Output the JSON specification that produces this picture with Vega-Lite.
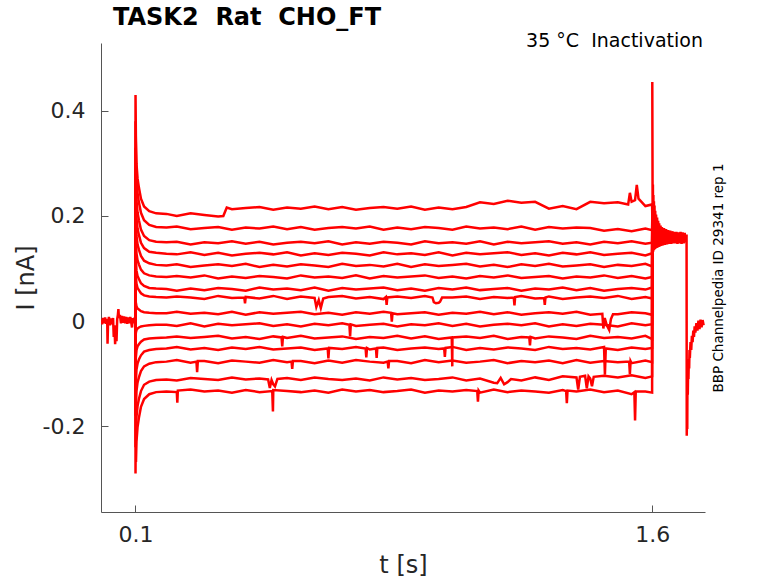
{
"$schema": "https://vega.github.io/schema/vega-lite/v6.json",
"width": 604,
"height": 469,
"autosize": {"type": "none"},
"padding": {"left": 101, "top": 43, "right": 73, "bottom": 71},
"background": "white",
"title": {"text": "TASK2\u00a0 Rat\u00a0 CHO_FT", "anchor": "start", "frame": "group", "dx": 12, "dy": 26, "offset": 4, "baseline": "bottom", "fontSize": 24, "font": "DejaVu Sans", "fontWeight": "bold", "color": "#000000"},
"config": {
  "view": {"stroke": null},
  "axis": {"grid": false, "labelFont": "DejaVu Sans", "labelFontSize": 22, "labelColor": "#262626", "titleFont": "DejaVu Sans", "titleFontSize": 24, "titleFontWeight": "normal", "titleColor": "#262626", "domainColor": "#555555", "domainWidth": 1, "tickColor": "#555555", "tickSize": -7, "tickWidth": 1},
  "axisX": {"labelPadding": 19, "titlePadding": 8},
  "axisY": {"labelPadding": 23, "titlePadding": 4}
},
"layer": [
{
"data": {"values": [
{"s":0,"t":0,"i":0.003},{"s":0,"t":0.003,"i":-0.006},{"s":0,"t":0.006,"i":0.006},{"s":0,"t":0.009,"i":-0.004},{"s":0,"t":0.012,"i":0.007},{"s":0,"t":0.015,"i":-0.005},{"s":0,"t":0.018,"i":0.004},{"s":0,"t":0.019,"i":-0.043},{"s":0,"t":0.0205,"i":-0.002},{"s":0,"t":0.023,"i":0.008},{"s":0,"t":0.026,"i":-0.008},{"s":0,"t":0.029,"i":0.005},{"s":0,"t":0.032,"i":-0.006},{"s":0,"t":0.035,"i":0.006},{"s":0,"t":0.037,"i":-0.03},{"s":0,"t":0.039,"i":-0.008},{"s":0,"t":0.041,"i":-0.044},{"s":0,"t":0.043,"i":-0.01},{"s":0,"t":0.045,"i":-0.038},{"s":0,"t":0.047,"i":0.004},{"s":0,"t":0.049,"i":0.012},{"s":0,"t":0.0505,"i":0.023},{"s":0,"t":0.052,"i":0.006},{"s":0,"t":0.055,"i":0.012},{"s":0,"t":0.058,"i":-0.004},{"s":0,"t":0.061,"i":0.01},{"s":0,"t":0.064,"i":-0.003},{"s":0,"t":0.067,"i":0.009},{"s":0,"t":0.07,"i":-0.004},{"s":0,"t":0.073,"i":0.008},{"s":0,"t":0.076,"i":-0.005},{"s":0,"t":0.079,"i":0.007},{"s":0,"t":0.082,"i":-0.004},{"s":0,"t":0.085,"i":0.008},{"s":0,"t":0.088,"i":-0.003},{"s":0,"t":0.09,"i":-0.012},{"s":0,"t":0.092,"i":0.006},{"s":0,"t":0.095,"i":-0.004},{"s":0,"t":0.098,"i":0.007},{"s":0,"t":0.1,"i":0},

{"s":1,"t":0.1,"i":0},{"s":1,"t":0.1002,"i":0.43},{"s":1,"t":0.1012,"i":0.353},{"s":1,"t":0.103,"i":0.299},{"s":1,"t":0.106,"i":0.272},{"s":1,"t":0.11,"i":0.254},{"s":1,"t":0.116,"i":0.233},{"s":1,"t":0.125,"i":0.218},{"s":1,"t":0.14,"i":0.209},{"s":1,"t":0.16,"i":0.205},{"s":1,"t":0.19,"i":0.204},{"s":1,"t":0.22,"i":0.2},{"s":1,"t":0.26,"i":0.205},{"s":1,"t":0.3,"i":0.202},{"s":1,"t":0.34,"i":0.199},{"s":1,"t":0.355,"i":0.2},{"s":1,"t":0.365,"i":0.216},{"s":1,"t":0.38,"i":0.213},{"s":1,"t":0.42,"i":0.215},{"s":1,"t":0.46,"i":0.217},{"s":1,"t":0.5,"i":0.212},{"s":1,"t":0.54,"i":0.216},{"s":1,"t":0.58,"i":0.214},{"s":1,"t":0.62,"i":0.218},{"s":1,"t":0.66,"i":0.213},{"s":1,"t":0.7,"i":0.217},{"s":1,"t":0.74,"i":0.212},{"s":1,"t":0.78,"i":0.215},{"s":1,"t":0.82,"i":0.217},{"s":1,"t":0.86,"i":0.214},{"s":1,"t":0.9,"i":0.218},{"s":1,"t":0.94,"i":0.212},{"s":1,"t":0.98,"i":0.216},{"s":1,"t":1.02,"i":0.213},{"s":1,"t":1.06,"i":0.217},{"s":1,"t":1.1,"i":0.226},{"s":1,"t":1.14,"i":0.223},{"s":1,"t":1.18,"i":0.229},{"s":1,"t":1.22,"i":0.225},{"s":1,"t":1.26,"i":0.227},{"s":1,"t":1.3,"i":0.214},{"s":1,"t":1.34,"i":0.219},{"s":1,"t":1.38,"i":0.213},{"s":1,"t":1.42,"i":0.227},{"s":1,"t":1.46,"i":0.224},{"s":1,"t":1.5,"i":0.226},{"s":1,"t":1.53,"i":0.222},{"s":1,"t":1.535,"i":0.244},{"s":1,"t":1.54,"i":0.227},{"s":1,"t":1.55,"i":0.23},{"s":1,"t":1.555,"i":0.259},{"s":1,"t":1.56,"i":0.233},{"s":1,"t":1.58,"i":0.219},{"s":1,"t":1.5995,"i":0.222},{"s":1,"t":1.6,"i":0.2},

{"s":2,"t":0.1,"i":0},{"s":2,"t":0.1002,"i":0.38},{"s":2,"t":0.1012,"i":0.322},{"s":2,"t":0.103,"i":0.27},{"s":2,"t":0.106,"i":0.244},{"s":2,"t":0.11,"i":0.226},{"s":2,"t":0.116,"i":0.206},{"s":2,"t":0.125,"i":0.192},{"s":2,"t":0.14,"i":0.183},{"s":2,"t":0.16,"i":0.179},{"s":2,"t":0.19,"i":0.178},{"s":2,"t":0.22,"i":0.18},{"s":2,"t":0.26,"i":0.175},{"s":2,"t":0.3,"i":0.177},{"s":2,"t":0.34,"i":0.179},{"s":2,"t":0.38,"i":0.174},{"s":2,"t":0.42,"i":0.178},{"s":2,"t":0.46,"i":0.176},{"s":2,"t":0.5,"i":0.18},{"s":2,"t":0.54,"i":0.175},{"s":2,"t":0.58,"i":0.179},{"s":2,"t":0.62,"i":0.174},{"s":2,"t":0.66,"i":0.177},{"s":2,"t":0.7,"i":0.179},{"s":2,"t":0.74,"i":0.176},{"s":2,"t":0.78,"i":0.18},{"s":2,"t":0.82,"i":0.174},{"s":2,"t":0.86,"i":0.178},{"s":2,"t":0.9,"i":0.175},{"s":2,"t":0.94,"i":0.179},{"s":2,"t":0.98,"i":0.177},{"s":2,"t":1.02,"i":0.174},{"s":2,"t":1.06,"i":0.18},{"s":2,"t":1.1,"i":0.176},{"s":2,"t":1.14,"i":0.178},{"s":2,"t":1.18,"i":0.175},{"s":2,"t":1.22,"i":0.18},{"s":2,"t":1.26,"i":0.174},{"s":2,"t":1.3,"i":0.179},{"s":2,"t":1.34,"i":0.176},{"s":2,"t":1.38,"i":0.178},{"s":2,"t":1.42,"i":0.177},{"s":2,"t":1.46,"i":0.172},{"s":2,"t":1.5,"i":0.175},{"s":2,"t":1.54,"i":0.171},{"s":2,"t":1.58,"i":0.176},{"s":2,"t":1.5995,"i":0.173},{"s":2,"t":1.6,"i":0.2},

{"s":3,"t":0.1,"i":0},{"s":3,"t":0.1002,"i":0.33},{"s":3,"t":0.1012,"i":0.274},{"s":3,"t":0.103,"i":0.229},{"s":3,"t":0.106,"i":0.207},{"s":3,"t":0.11,"i":0.192},{"s":3,"t":0.116,"i":0.174},{"s":3,"t":0.125,"i":0.162},{"s":3,"t":0.14,"i":0.154},{"s":3,"t":0.16,"i":0.151},{"s":3,"t":0.19,"i":0.15},{"s":3,"t":0.22,"i":0.151},{"s":3,"t":0.26,"i":0.146},{"s":3,"t":0.3,"i":0.15},{"s":3,"t":0.34,"i":0.148},{"s":3,"t":0.38,"i":0.152},{"s":3,"t":0.42,"i":0.147},{"s":3,"t":0.46,"i":0.151},{"s":3,"t":0.5,"i":0.146},{"s":3,"t":0.54,"i":0.149},{"s":3,"t":0.58,"i":0.151},{"s":3,"t":0.62,"i":0.148},{"s":3,"t":0.66,"i":0.152},{"s":3,"t":0.7,"i":0.146},{"s":3,"t":0.74,"i":0.15},{"s":3,"t":0.78,"i":0.147},{"s":3,"t":0.82,"i":0.151},{"s":3,"t":0.86,"i":0.149},{"s":3,"t":0.9,"i":0.146},{"s":3,"t":0.94,"i":0.152},{"s":3,"t":0.98,"i":0.148},{"s":3,"t":1.02,"i":0.15},{"s":3,"t":1.06,"i":0.147},{"s":3,"t":1.1,"i":0.152},{"s":3,"t":1.14,"i":0.146},{"s":3,"t":1.18,"i":0.151},{"s":3,"t":1.22,"i":0.148},{"s":3,"t":1.26,"i":0.15},{"s":3,"t":1.3,"i":0.152},{"s":3,"t":1.34,"i":0.147},{"s":3,"t":1.38,"i":0.15},{"s":3,"t":1.42,"i":0.146},{"s":3,"t":1.46,"i":0.151},{"s":3,"t":1.5,"i":0.148},{"s":3,"t":1.54,"i":0.152},{"s":3,"t":1.58,"i":0.147},{"s":3,"t":1.5995,"i":0.149},{"s":3,"t":1.6,"i":0.2},

{"s":4,"t":0.1,"i":0},{"s":4,"t":0.1002,"i":0.28},{"s":4,"t":0.1012,"i":0.233},{"s":4,"t":0.103,"i":0.195},{"s":4,"t":0.106,"i":0.176},{"s":4,"t":0.11,"i":0.164},{"s":4,"t":0.116,"i":0.149},{"s":4,"t":0.125,"i":0.139},{"s":4,"t":0.14,"i":0.132},{"s":4,"t":0.16,"i":0.13},{"s":4,"t":0.19,"i":0.128},{"s":4,"t":0.22,"i":0.127},{"s":4,"t":0.26,"i":0.131},{"s":4,"t":0.3,"i":0.126},{"s":4,"t":0.34,"i":0.13},{"s":4,"t":0.38,"i":0.125},{"s":4,"t":0.42,"i":0.128},{"s":4,"t":0.46,"i":0.13},{"s":4,"t":0.5,"i":0.127},{"s":4,"t":0.54,"i":0.131},{"s":4,"t":0.58,"i":0.125},{"s":4,"t":0.62,"i":0.129},{"s":4,"t":0.66,"i":0.126},{"s":4,"t":0.7,"i":0.13},{"s":4,"t":0.74,"i":0.128},{"s":4,"t":0.78,"i":0.125},{"s":4,"t":0.82,"i":0.131},{"s":4,"t":0.86,"i":0.127},{"s":4,"t":0.9,"i":0.129},{"s":4,"t":0.94,"i":0.126},{"s":4,"t":0.98,"i":0.131},{"s":4,"t":1.02,"i":0.125},{"s":4,"t":1.06,"i":0.13},{"s":4,"t":1.1,"i":0.127},{"s":4,"t":1.14,"i":0.129},{"s":4,"t":1.18,"i":0.131},{"s":4,"t":1.22,"i":0.126},{"s":4,"t":1.26,"i":0.129},{"s":4,"t":1.3,"i":0.125},{"s":4,"t":1.34,"i":0.13},{"s":4,"t":1.38,"i":0.127},{"s":4,"t":1.42,"i":0.131},{"s":4,"t":1.46,"i":0.126},{"s":4,"t":1.5,"i":0.128},{"s":4,"t":1.54,"i":0.13},{"s":4,"t":1.58,"i":0.125},{"s":4,"t":1.5995,"i":0.129},{"s":4,"t":1.6,"i":0.2},

{"s":5,"t":0.1,"i":0},{"s":5,"t":0.1002,"i":0.23},{"s":5,"t":0.1012,"i":0.194},{"s":5,"t":0.103,"i":0.162},{"s":5,"t":0.106,"i":0.146},{"s":5,"t":0.11,"i":0.136},{"s":5,"t":0.116,"i":0.124},{"s":5,"t":0.125,"i":0.115},{"s":5,"t":0.14,"i":0.11},{"s":5,"t":0.16,"i":0.107},{"s":5,"t":0.19,"i":0.106},{"s":5,"t":0.22,"i":0.108},{"s":5,"t":0.26,"i":0.103},{"s":5,"t":0.3,"i":0.106},{"s":5,"t":0.34,"i":0.108},{"s":5,"t":0.38,"i":0.105},{"s":5,"t":0.42,"i":0.109},{"s":5,"t":0.46,"i":0.103},{"s":5,"t":0.5,"i":0.107},{"s":5,"t":0.54,"i":0.104},{"s":5,"t":0.58,"i":0.108},{"s":5,"t":0.62,"i":0.106},{"s":5,"t":0.66,"i":0.103},{"s":5,"t":0.7,"i":0.109},{"s":5,"t":0.74,"i":0.105},{"s":5,"t":0.78,"i":0.107},{"s":5,"t":0.82,"i":0.104},{"s":5,"t":0.86,"i":0.109},{"s":5,"t":0.9,"i":0.103},{"s":5,"t":0.94,"i":0.108},{"s":5,"t":0.98,"i":0.105},{"s":5,"t":1.02,"i":0.107},{"s":5,"t":1.06,"i":0.109},{"s":5,"t":1.1,"i":0.104},{"s":5,"t":1.14,"i":0.107},{"s":5,"t":1.18,"i":0.103},{"s":5,"t":1.22,"i":0.108},{"s":5,"t":1.26,"i":0.105},{"s":5,"t":1.3,"i":0.109},{"s":5,"t":1.34,"i":0.104},{"s":5,"t":1.38,"i":0.106},{"s":5,"t":1.42,"i":0.108},{"s":5,"t":1.46,"i":0.103},{"s":5,"t":1.5,"i":0.107},{"s":5,"t":1.54,"i":0.105},{"s":5,"t":1.58,"i":0.109},{"s":5,"t":1.5995,"i":0.104},{"s":5,"t":1.6,"i":0.2},

{"s":6,"t":0.1,"i":0},{"s":6,"t":0.1002,"i":0.18},{"s":6,"t":0.1012,"i":0.154},{"s":6,"t":0.103,"i":0.129},{"s":6,"t":0.106,"i":0.116},{"s":6,"t":0.11,"i":0.108},{"s":6,"t":0.116,"i":0.098},{"s":6,"t":0.125,"i":0.091},{"s":6,"t":0.14,"i":0.087},{"s":6,"t":0.16,"i":0.085},{"s":6,"t":0.19,"i":0.084},{"s":6,"t":0.22,"i":0.086},{"s":6,"t":0.26,"i":0.083},{"s":6,"t":0.3,"i":0.087},{"s":6,"t":0.34,"i":0.081},{"s":6,"t":0.38,"i":0.085},{"s":6,"t":0.42,"i":0.082},{"s":6,"t":0.46,"i":0.086},{"s":6,"t":0.5,"i":0.084},{"s":6,"t":0.54,"i":0.081},{"s":6,"t":0.58,"i":0.087},{"s":6,"t":0.62,"i":0.083},{"s":6,"t":0.66,"i":0.085},{"s":6,"t":0.7,"i":0.082},{"s":6,"t":0.74,"i":0.087},{"s":6,"t":0.78,"i":0.081},{"s":6,"t":0.82,"i":0.086},{"s":6,"t":0.86,"i":0.083},{"s":6,"t":0.9,"i":0.085},{"s":6,"t":0.94,"i":0.087},{"s":6,"t":0.98,"i":0.082},{"s":6,"t":1.02,"i":0.085},{"s":6,"t":1.06,"i":0.081},{"s":6,"t":1.1,"i":0.086},{"s":6,"t":1.14,"i":0.083},{"s":6,"t":1.18,"i":0.087},{"s":6,"t":1.22,"i":0.082},{"s":6,"t":1.26,"i":0.084},{"s":6,"t":1.3,"i":0.086},{"s":6,"t":1.34,"i":0.081},{"s":6,"t":1.38,"i":0.085},{"s":6,"t":1.42,"i":0.083},{"s":6,"t":1.46,"i":0.087},{"s":6,"t":1.5,"i":0.082},{"s":6,"t":1.54,"i":0.086},{"s":6,"t":1.58,"i":0.081},{"s":6,"t":1.5995,"i":0.084},{"s":6,"t":1.6,"i":0.2},

{"s":7,"t":0.1,"i":0},{"s":7,"t":0.1002,"i":0.13},{"s":7,"t":0.1012,"i":0.116},{"s":7,"t":0.103,"i":0.096},{"s":7,"t":0.106,"i":0.086},{"s":7,"t":0.11,"i":0.08},{"s":7,"t":0.116,"i":0.072},{"s":7,"t":0.125,"i":0.067},{"s":7,"t":0.14,"i":0.063},{"s":7,"t":0.16,"i":0.062},{"s":7,"t":0.19,"i":0.061},{"s":7,"t":0.22,"i":0.058},{"s":7,"t":0.26,"i":0.062},{"s":7,"t":0.3,"i":0.059},{"s":7,"t":0.34,"i":0.063},{"s":7,"t":0.38,"i":0.061},{"s":7,"t":0.42,"i":0.058},{"s":7,"t":0.46,"i":0.064},{"s":7,"t":0.5,"i":0.06},{"s":7,"t":0.54,"i":0.062},{"s":7,"t":0.58,"i":0.059},{"s":7,"t":0.62,"i":0.064},{"s":7,"t":0.66,"i":0.058},{"s":7,"t":0.7,"i":0.063},{"s":7,"t":0.74,"i":0.06},{"s":7,"t":0.78,"i":0.062},{"s":7,"t":0.82,"i":0.064},{"s":7,"t":0.86,"i":0.059},{"s":7,"t":0.9,"i":0.062},{"s":7,"t":0.94,"i":0.058},{"s":7,"t":0.98,"i":0.063},{"s":7,"t":1.02,"i":0.06},{"s":7,"t":1.06,"i":0.064},{"s":7,"t":1.1,"i":0.059},{"s":7,"t":1.14,"i":0.061},{"s":7,"t":1.18,"i":0.063},{"s":7,"t":1.22,"i":0.058},{"s":7,"t":1.26,"i":0.062},{"s":7,"t":1.3,"i":0.06},{"s":7,"t":1.34,"i":0.064},{"s":7,"t":1.38,"i":0.059},{"s":7,"t":1.42,"i":0.063},{"s":7,"t":1.46,"i":0.058},{"s":7,"t":1.5,"i":0.061},{"s":7,"t":1.54,"i":0.063},{"s":7,"t":1.58,"i":0.06},{"s":7,"t":1.5995,"i":0.064},{"s":7,"t":1.6,"i":0.2},

{"s":8,"t":0.1,"i":0},{"s":8,"t":0.1002,"i":0.09},{"s":8,"t":0.1012,"i":0.085},{"s":8,"t":0.103,"i":0.071},{"s":8,"t":0.106,"i":0.063},{"s":8,"t":0.11,"i":0.059},{"s":8,"t":0.116,"i":0.053},{"s":8,"t":0.125,"i":0.049},{"s":8,"t":0.14,"i":0.047},{"s":8,"t":0.16,"i":0.046},{"s":8,"t":0.19,"i":0.045},{"s":8,"t":0.22,"i":0.047},{"s":8,"t":0.26,"i":0.045},{"s":8,"t":0.3,"i":0.042},{"s":8,"t":0.34,"i":0.048},{"s":8,"t":0.38,"i":0.044},{"s":8,"t":0.416,"i":0.045},{"s":8,"t":0.418,"i":0.034},{"s":8,"t":0.42,"i":0.046},{"s":8,"t":0.46,"i":0.043},{"s":8,"t":0.5,"i":0.048},{"s":8,"t":0.54,"i":0.042},{"s":8,"t":0.58,"i":0.047},{"s":8,"t":0.62,"i":0.044},{"s":8,"t":0.625,"i":0.027},{"s":8,"t":0.632,"i":0.04},{"s":8,"t":0.638,"i":0.025},{"s":8,"t":0.645,"i":0.043},{"s":8,"t":0.66,"i":0.046},{"s":8,"t":0.7,"i":0.048},{"s":8,"t":0.74,"i":0.043},{"s":8,"t":0.78,"i":0.046},{"s":8,"t":0.82,"i":0.042},{"s":8,"t":0.827,"i":0.046},{"s":8,"t":0.829,"i":0.031},{"s":8,"t":0.831,"i":0.045},{"s":8,"t":0.86,"i":0.047},{"s":8,"t":0.9,"i":0.044},{"s":8,"t":0.94,"i":0.048},{"s":8,"t":0.962,"i":0.045},{"s":8,"t":0.966,"i":0.036},{"s":8,"t":0.972,"i":0.034},{"s":8,"t":0.98,"i":0.035},{"s":8,"t":0.984,"i":0.037},{"s":8,"t":0.99,"i":0.045},{"s":8,"t":1.02,"i":0.045},{"s":8,"t":1.06,"i":0.047},{"s":8,"t":1.1,"i":0.042},{"s":8,"t":1.14,"i":0.046},{"s":8,"t":1.18,"i":0.044},{"s":8,"t":1.198,"i":0.045},{"s":8,"t":1.2,"i":0.03},{"s":8,"t":1.202,"i":0.046},{"s":8,"t":1.22,"i":0.048},{"s":8,"t":1.26,"i":0.043},{"s":8,"t":1.286,"i":0.044},{"s":8,"t":1.288,"i":0.031},{"s":8,"t":1.29,"i":0.045},{"s":8,"t":1.3,"i":0.047},{"s":8,"t":1.34,"i":0.042},{"s":8,"t":1.38,"i":0.045},{"s":8,"t":1.42,"i":0.047},{"s":8,"t":1.46,"i":0.044},{"s":8,"t":1.5,"i":0.048},{"s":8,"t":1.54,"i":0.042},{"s":8,"t":1.58,"i":0.046},{"s":8,"t":1.5995,"i":0.043},{"s":8,"t":1.6,"i":0.2},

{"s":9,"t":0.1,"i":0},{"s":9,"t":0.1002,"i":0.04},{"s":9,"t":0.1012,"i":0.035},{"s":9,"t":0.103,"i":0.028},{"s":9,"t":0.106,"i":0.024},{"s":9,"t":0.11,"i":0.022},{"s":9,"t":0.116,"i":0.019},{"s":9,"t":0.125,"i":0.017},{"s":9,"t":0.14,"i":0.016},{"s":9,"t":0.16,"i":0.015},{"s":9,"t":0.19,"i":0.015},{"s":9,"t":0.22,"i":0.018},{"s":9,"t":0.26,"i":0.014},{"s":9,"t":0.3,"i":0.016},{"s":9,"t":0.34,"i":0.013},{"s":9,"t":0.38,"i":0.018},{"s":9,"t":0.42,"i":0.012},{"s":9,"t":0.46,"i":0.017},{"s":9,"t":0.5,"i":0.014},{"s":9,"t":0.54,"i":0.016},{"s":9,"t":0.58,"i":0.018},{"s":9,"t":0.62,"i":0.013},{"s":9,"t":0.66,"i":0.016},{"s":9,"t":0.7,"i":0.012},{"s":9,"t":0.74,"i":0.017},{"s":9,"t":0.78,"i":0.014},{"s":9,"t":0.82,"i":0.018},{"s":9,"t":0.842,"i":0.016},{"s":9,"t":0.844,"i":-0.001},{"s":9,"t":0.846,"i":0.015},{"s":9,"t":0.86,"i":0.013},{"s":9,"t":0.9,"i":0.015},{"s":9,"t":0.94,"i":0.017},{"s":9,"t":0.98,"i":0.012},{"s":9,"t":1.02,"i":0.016},{"s":9,"t":1.06,"i":0.014},{"s":9,"t":1.1,"i":0.018},{"s":9,"t":1.14,"i":0.013},{"s":9,"t":1.18,"i":0.017},{"s":9,"t":1.22,"i":0.012},{"s":9,"t":1.26,"i":0.015},{"s":9,"t":1.3,"i":0.017},{"s":9,"t":1.34,"i":0.014},{"s":9,"t":1.38,"i":0.018},{"s":9,"t":1.42,"i":0.012},{"s":9,"t":1.455,"i":0.014},{"s":9,"t":1.458,"i":-0.014},{"s":9,"t":1.46,"i":-0.004},{"s":9,"t":1.462,"i":0.006},{"s":9,"t":1.468,"i":-0.008},{"s":9,"t":1.475,"i":-0.017},{"s":9,"t":1.48,"i":0.004},{"s":9,"t":1.486,"i":0.013},{"s":9,"t":1.5,"i":0.013},{"s":9,"t":1.54,"i":0.017},{"s":9,"t":1.58,"i":0.015},{"s":9,"t":1.5995,"i":0.012},{"s":9,"t":1.6,"i":0.2},

{"s":10,"t":0.1,"i":0},{"s":10,"t":0.1002,"i":-0.03},{"s":10,"t":0.1012,"i":-0.022},{"s":10,"t":0.103,"i":-0.017},{"s":10,"t":0.106,"i":-0.014},{"s":10,"t":0.11,"i":-0.012},{"s":10,"t":0.116,"i":-0.01},{"s":10,"t":0.125,"i":-0.009},{"s":10,"t":0.14,"i":-0.008},{"s":10,"t":0.16,"i":-0.007},{"s":10,"t":0.19,"i":-0.007},{"s":10,"t":0.22,"i":-0.009},{"s":10,"t":0.26,"i":-0.004},{"s":10,"t":0.3,"i":-0.01},{"s":10,"t":0.34,"i":-0.005},{"s":10,"t":0.38,"i":-0.008},{"s":10,"t":0.42,"i":-0.006},{"s":10,"t":0.46,"i":-0.004},{"s":10,"t":0.5,"i":-0.009},{"s":10,"t":0.54,"i":-0.006},{"s":10,"t":0.58,"i":-0.01},{"s":10,"t":0.62,"i":-0.005},{"s":10,"t":0.66,"i":-0.008},{"s":10,"t":0.7,"i":-0.004},{"s":10,"t":0.721,"i":-0.007},{"s":10,"t":0.723,"i":-0.029},{"s":10,"t":0.725,"i":-0.006},{"s":10,"t":0.74,"i":-0.009},{"s":10,"t":0.78,"i":-0.007},{"s":10,"t":0.82,"i":-0.005},{"s":10,"t":0.86,"i":-0.01},{"s":10,"t":0.9,"i":-0.006},{"s":10,"t":0.94,"i":-0.008},{"s":10,"t":0.98,"i":-0.004},{"s":10,"t":1.02,"i":-0.009},{"s":10,"t":1.06,"i":-0.005},{"s":10,"t":1.1,"i":-0.01},{"s":10,"t":1.14,"i":-0.007},{"s":10,"t":1.18,"i":-0.005},{"s":10,"t":1.22,"i":-0.008},{"s":10,"t":1.26,"i":-0.004},{"s":10,"t":1.3,"i":-0.01},{"s":10,"t":1.34,"i":-0.006},{"s":10,"t":1.38,"i":-0.009},{"s":10,"t":1.42,"i":-0.005},{"s":10,"t":1.46,"i":-0.007},{"s":10,"t":1.5,"i":-0.01},{"s":10,"t":1.54,"i":-0.004},{"s":10,"t":1.58,"i":-0.008},{"s":10,"t":1.5995,"i":-0.006},{"s":10,"t":1.6,"i":0.2},

{"s":11,"t":0.1,"i":0},{"s":11,"t":0.1002,"i":-0.08},{"s":11,"t":0.1012,"i":-0.069},{"s":11,"t":0.103,"i":-0.055},{"s":11,"t":0.106,"i":-0.048},{"s":11,"t":0.11,"i":-0.044},{"s":11,"t":0.116,"i":-0.039},{"s":11,"t":0.125,"i":-0.035},{"s":11,"t":0.14,"i":-0.033},{"s":11,"t":0.16,"i":-0.032},{"s":11,"t":0.19,"i":-0.031},{"s":11,"t":0.22,"i":-0.029},{"s":11,"t":0.26,"i":-0.032},{"s":11,"t":0.3,"i":-0.03},{"s":11,"t":0.34,"i":-0.028},{"s":11,"t":0.38,"i":-0.033},{"s":11,"t":0.42,"i":-0.03},{"s":11,"t":0.46,"i":-0.034},{"s":11,"t":0.5,"i":-0.029},{"s":11,"t":0.524,"i":-0.031},{"s":11,"t":0.526,"i":-0.048},{"s":11,"t":0.528,"i":-0.03},{"s":11,"t":0.54,"i":-0.032},{"s":11,"t":0.58,"i":-0.028},{"s":11,"t":0.62,"i":-0.033},{"s":11,"t":0.66,"i":-0.031},{"s":11,"t":0.7,"i":-0.029},{"s":11,"t":0.74,"i":-0.034},{"s":11,"t":0.78,"i":-0.03},{"s":11,"t":0.82,"i":-0.032},{"s":11,"t":0.86,"i":-0.028},{"s":11,"t":0.9,"i":-0.033},{"s":11,"t":0.94,"i":-0.029},{"s":11,"t":0.98,"i":-0.034},{"s":11,"t":1.018,"i":-0.031},{"s":11,"t":1.0195,"i":-0.086},{"s":11,"t":1.02,"i":-0.031},{"s":11,"t":1.06,"i":-0.029},{"s":11,"t":1.1,"i":-0.032},{"s":11,"t":1.14,"i":-0.028},{"s":11,"t":1.18,"i":-0.034},{"s":11,"t":1.22,"i":-0.03},{"s":11,"t":1.243,"i":-0.031},{"s":11,"t":1.245,"i":-0.046},{"s":11,"t":1.247,"i":-0.03},{"s":11,"t":1.26,"i":-0.033},{"s":11,"t":1.3,"i":-0.029},{"s":11,"t":1.34,"i":-0.031},{"s":11,"t":1.38,"i":-0.034},{"s":11,"t":1.42,"i":-0.028},{"s":11,"t":1.46,"i":-0.032},{"s":11,"t":1.5,"i":-0.03},{"s":11,"t":1.54,"i":-0.033},{"s":11,"t":1.58,"i":-0.028},{"s":11,"t":1.5995,"i":-0.034},{"s":11,"t":1.6,"i":0.2},

{"s":12,"t":0.1,"i":0},{"s":12,"t":0.1002,"i":-0.13},{"s":12,"t":0.1012,"i":-0.115},{"s":12,"t":0.103,"i":-0.092},{"s":12,"t":0.106,"i":-0.081},{"s":12,"t":0.11,"i":-0.073},{"s":12,"t":0.116,"i":-0.065},{"s":12,"t":0.125,"i":-0.058},{"s":12,"t":0.14,"i":-0.055},{"s":12,"t":0.16,"i":-0.053},{"s":12,"t":0.19,"i":-0.052},{"s":12,"t":0.22,"i":-0.049},{"s":12,"t":0.26,"i":-0.054},{"s":12,"t":0.3,"i":-0.051},{"s":12,"t":0.34,"i":-0.055},{"s":12,"t":0.38,"i":-0.05},{"s":12,"t":0.42,"i":-0.053},{"s":12,"t":0.46,"i":-0.049},{"s":12,"t":0.5,"i":-0.054},{"s":12,"t":0.54,"i":-0.052},{"s":12,"t":0.58,"i":-0.05},{"s":12,"t":0.62,"i":-0.055},{"s":12,"t":0.658,"i":-0.052},{"s":12,"t":0.66,"i":-0.071},{"s":12,"t":0.662,"i":-0.051},{"s":12,"t":0.7,"i":-0.053},{"s":12,"t":0.74,"i":-0.049},{"s":12,"t":0.768,"i":-0.052},{"s":12,"t":0.77,"i":-0.069},{"s":12,"t":0.772,"i":-0.051},{"s":12,"t":0.78,"i":-0.054},{"s":12,"t":0.798,"i":-0.052},{"s":12,"t":0.8,"i":-0.07},{"s":12,"t":0.802,"i":-0.051},{"s":12,"t":0.82,"i":-0.05},{"s":12,"t":0.86,"i":-0.055},{"s":12,"t":0.9,"i":-0.052},{"s":12,"t":0.94,"i":-0.05},{"s":12,"t":0.98,"i":-0.053},{"s":12,"t":0.996,"i":-0.052},{"s":12,"t":0.998,"i":-0.068},{"s":12,"t":1.0,"i":-0.051},{"s":12,"t":1.02,"i":-0.049},{"s":12,"t":1.06,"i":-0.055},{"s":12,"t":1.1,"i":-0.051},{"s":12,"t":1.14,"i":-0.054},{"s":12,"t":1.18,"i":-0.05},{"s":12,"t":1.22,"i":-0.052},{"s":12,"t":1.26,"i":-0.055},{"s":12,"t":1.3,"i":-0.049},{"s":12,"t":1.34,"i":-0.053},{"s":12,"t":1.38,"i":-0.051},{"s":12,"t":1.42,"i":-0.054},{"s":12,"t":1.46,"i":-0.049},{"s":12,"t":1.4625,"i":-0.102},{"s":12,"t":1.465,"i":-0.052},{"s":12,"t":1.5,"i":-0.055},{"s":12,"t":1.54,"i":-0.05},{"s":12,"t":1.58,"i":-0.053},{"s":12,"t":1.5995,"i":-0.051},{"s":12,"t":1.6,"i":0.2},

{"s":13,"t":0.1,"i":0},{"s":13,"t":0.1002,"i":-0.18},{"s":13,"t":0.1012,"i":-0.165},{"s":13,"t":0.103,"i":-0.133},{"s":13,"t":0.106,"i":-0.117},{"s":13,"t":0.11,"i":-0.107},{"s":13,"t":0.116,"i":-0.095},{"s":13,"t":0.125,"i":-0.086},{"s":13,"t":0.14,"i":-0.081},{"s":13,"t":0.16,"i":-0.078},{"s":13,"t":0.19,"i":-0.077},{"s":13,"t":0.22,"i":-0.074},{"s":13,"t":0.26,"i":-0.079},{"s":13,"t":0.277,"i":-0.077},{"s":13,"t":0.279,"i":-0.097},{"s":13,"t":0.281,"i":-0.076},{"s":13,"t":0.3,"i":-0.076},{"s":13,"t":0.34,"i":-0.08},{"s":13,"t":0.38,"i":-0.075},{"s":13,"t":0.42,"i":-0.077},{"s":13,"t":0.46,"i":-0.079},{"s":13,"t":0.5,"i":-0.074},{"s":13,"t":0.54,"i":-0.078},{"s":13,"t":0.553,"i":-0.077},{"s":13,"t":0.555,"i":-0.091},{"s":13,"t":0.557,"i":-0.076},{"s":13,"t":0.58,"i":-0.076},{"s":13,"t":0.62,"i":-0.08},{"s":13,"t":0.66,"i":-0.075},{"s":13,"t":0.7,"i":-0.079},{"s":13,"t":0.74,"i":-0.074},{"s":13,"t":0.78,"i":-0.077},{"s":13,"t":0.82,"i":-0.079},{"s":13,"t":0.832,"i":-0.077},{"s":13,"t":0.834,"i":-0.09},{"s":13,"t":0.836,"i":-0.076},{"s":13,"t":0.86,"i":-0.076},{"s":13,"t":0.9,"i":-0.08},{"s":13,"t":0.94,"i":-0.074},{"s":13,"t":0.98,"i":-0.078},{"s":13,"t":1.02,"i":-0.075},{"s":13,"t":1.06,"i":-0.079},{"s":13,"t":1.1,"i":-0.077},{"s":13,"t":1.14,"i":-0.074},{"s":13,"t":1.18,"i":-0.08},{"s":13,"t":1.22,"i":-0.076},{"s":13,"t":1.26,"i":-0.078},{"s":13,"t":1.3,"i":-0.075},{"s":13,"t":1.34,"i":-0.08},{"s":13,"t":1.38,"i":-0.074},{"s":13,"t":1.42,"i":-0.079},{"s":13,"t":1.46,"i":-0.076},{"s":13,"t":1.5,"i":-0.078},{"s":13,"t":1.533,"i":-0.077},{"s":13,"t":1.535,"i":-0.101},{"s":13,"t":1.537,"i":-0.076},{"s":13,"t":1.54,"i":-0.08},{"s":13,"t":1.58,"i":-0.075},{"s":13,"t":1.5995,"i":-0.078},{"s":13,"t":1.6,"i":0.2},

{"s":14,"t":0.1,"i":0},{"s":14,"t":0.1002,"i":-0.24},{"s":14,"t":0.1012,"i":-0.223},{"s":14,"t":0.103,"i":-0.182},{"s":14,"t":0.106,"i":-0.162},{"s":14,"t":0.11,"i":-0.148},{"s":14,"t":0.116,"i":-0.133},{"s":14,"t":0.125,"i":-0.121},{"s":14,"t":0.14,"i":-0.115},{"s":14,"t":0.16,"i":-0.112},{"s":14,"t":0.19,"i":-0.111},{"s":14,"t":0.22,"i":-0.113},{"s":14,"t":0.26,"i":-0.108},{"s":14,"t":0.3,"i":-0.11},{"s":14,"t":0.34,"i":-0.112},{"s":14,"t":0.38,"i":-0.107},{"s":14,"t":0.42,"i":-0.111},{"s":14,"t":0.46,"i":-0.109},{"s":14,"t":0.485,"i":-0.111},{"s":14,"t":0.49,"i":-0.127},{"s":14,"t":0.495,"i":-0.112},{"s":14,"t":0.5,"i":-0.12},{"s":14,"t":0.505,"i":-0.124},{"s":14,"t":0.512,"i":-0.11},{"s":14,"t":0.54,"i":-0.108},{"s":14,"t":0.58,"i":-0.112},{"s":14,"t":0.62,"i":-0.107},{"s":14,"t":0.66,"i":-0.11},{"s":14,"t":0.7,"i":-0.112},{"s":14,"t":0.74,"i":-0.109},{"s":14,"t":0.78,"i":-0.113},{"s":14,"t":0.82,"i":-0.107},{"s":14,"t":0.86,"i":-0.111},{"s":14,"t":0.9,"i":-0.108},{"s":14,"t":0.94,"i":-0.112},{"s":14,"t":0.98,"i":-0.11},{"s":14,"t":1.02,"i":-0.107},{"s":14,"t":1.06,"i":-0.113},{"s":14,"t":1.1,"i":-0.109},{"s":14,"t":1.14,"i":-0.117},{"s":14,"t":1.15,"i":-0.118},{"s":14,"t":1.16,"i":-0.108},{"s":14,"t":1.17,"i":-0.12},{"s":14,"t":1.18,"i":-0.116},{"s":14,"t":1.19,"i":-0.11},{"s":14,"t":1.22,"i":-0.113},{"s":14,"t":1.26,"i":-0.107},{"s":14,"t":1.3,"i":-0.112},{"s":14,"t":1.34,"i":-0.105},{"s":14,"t":1.38,"i":-0.107},{"s":14,"t":1.385,"i":-0.13},{"s":14,"t":1.39,"i":-0.106},{"s":14,"t":1.405,"i":-0.104},{"s":14,"t":1.41,"i":-0.128},{"s":14,"t":1.415,"i":-0.105},{"s":14,"t":1.42,"i":-0.109},{"s":14,"t":1.425,"i":-0.124},{"s":14,"t":1.43,"i":-0.106},{"s":14,"t":1.46,"i":-0.104},{"s":14,"t":1.5,"i":-0.107},{"s":14,"t":1.54,"i":-0.103},{"s":14,"t":1.58,"i":-0.108},{"s":14,"t":1.5995,"i":-0.105},{"s":14,"t":1.6,"i":0.2},

{"s":15,"t":0.1,"i":0},{"s":15,"t":0.1002,"i":-0.29},{"s":15,"t":0.1008,"i":-0.2},{"s":15,"t":0.1015,"i":-0.268},{"s":15,"t":0.103,"i":-0.229},{"s":15,"t":0.106,"i":-0.202},{"s":15,"t":0.11,"i":-0.184},{"s":15,"t":0.116,"i":-0.163},{"s":15,"t":0.125,"i":-0.148},{"s":15,"t":0.14,"i":-0.139},{"s":15,"t":0.16,"i":-0.135},{"s":15,"t":0.19,"i":-0.134},{"s":15,"t":0.22,"i":-0.135},{"s":15,"t":0.2215,"i":-0.155},{"s":15,"t":0.223,"i":-0.132},{"s":15,"t":0.26,"i":-0.13},{"s":15,"t":0.3,"i":-0.134},{"s":15,"t":0.34,"i":-0.132},{"s":15,"t":0.38,"i":-0.136},{"s":15,"t":0.42,"i":-0.131},{"s":15,"t":0.46,"i":-0.135},{"s":15,"t":0.497,"i":-0.133},{"s":15,"t":0.499,"i":-0.172},{"s":15,"t":0.5,"i":-0.131},{"s":15,"t":0.54,"i":-0.133},{"s":15,"t":0.58,"i":-0.135},{"s":15,"t":0.62,"i":-0.132},{"s":15,"t":0.66,"i":-0.136},{"s":15,"t":0.7,"i":-0.13},{"s":15,"t":0.74,"i":-0.134},{"s":15,"t":0.78,"i":-0.131},{"s":15,"t":0.82,"i":-0.135},{"s":15,"t":0.86,"i":-0.133},{"s":15,"t":0.9,"i":-0.13},{"s":15,"t":0.94,"i":-0.136},{"s":15,"t":0.98,"i":-0.132},{"s":15,"t":1.02,"i":-0.134},{"s":15,"t":1.06,"i":-0.131},{"s":15,"t":1.092,"i":-0.133},{"s":15,"t":1.094,"i":-0.153},{"s":15,"t":1.096,"i":-0.132},{"s":15,"t":1.1,"i":-0.136},{"s":15,"t":1.14,"i":-0.13},{"s":15,"t":1.18,"i":-0.135},{"s":15,"t":1.22,"i":-0.132},{"s":15,"t":1.26,"i":-0.134},{"s":15,"t":1.3,"i":-0.136},{"s":15,"t":1.34,"i":-0.131},{"s":15,"t":1.35,"i":-0.133},{"s":15,"t":1.352,"i":-0.156},{"s":15,"t":1.354,"i":-0.132},{"s":15,"t":1.38,"i":-0.134},{"s":15,"t":1.42,"i":-0.13},{"s":15,"t":1.46,"i":-0.135},{"s":15,"t":1.5,"i":-0.132},{"s":15,"t":1.54,"i":-0.139},{"s":15,"t":1.548,"i":-0.135},{"s":15,"t":1.55,"i":-0.189},{"s":15,"t":1.552,"i":-0.134},{"s":15,"t":1.58,"i":-0.134},{"s":15,"t":1.5995,"i":-0.136},{"s":15,"t":1.6,"i":0.2},

{"s":16,"t":1.6,"i":0.455},{"s":16,"t":1.6006,"i":0.31},{"s":16,"t":1.6012,"i":0.135},{"s":16,"t":1.6018,"i":0.26},{"s":16,"t":1.6025,"i":0.132},{"s":16,"t":1.6032,"i":0.24},{"s":16,"t":1.604,"i":0.135},{"s":16,"t":1.6048,"i":0.228},{"s":16,"t":1.6056,"i":0.136},{"s":16,"t":1.6065,"i":0.22},{"s":16,"t":1.6075,"i":0.137},{"s":16,"t":1.6085,"i":0.21},{"s":16,"t":1.6095,"i":0.138},{"s":16,"t":1.611,"i":0.203},{"s":16,"t":1.6125,"i":0.139},{"s":16,"t":1.614,"i":0.197},{"s":16,"t":1.6155,"i":0.14},{"s":16,"t":1.617,"i":0.191},{"s":16,"t":1.6185,"i":0.141},{"s":16,"t":1.62,"i":0.186},{"s":16,"t":1.622,"i":0.142},{"s":16,"t":1.624,"i":0.182},{"s":16,"t":1.626,"i":0.143},{"s":16,"t":1.628,"i":0.179},{"s":16,"t":1.631,"i":0.144},{"s":16,"t":1.634,"i":0.177},{"s":16,"t":1.637,"i":0.145},{"s":16,"t":1.64,"i":0.175},{"s":16,"t":1.643,"i":0.146},{"s":16,"t":1.646,"i":0.173},{"s":16,"t":1.649,"i":0.147},{"s":16,"t":1.652,"i":0.172},{"s":16,"t":1.655,"i":0.147},{"s":16,"t":1.658,"i":0.171},{"s":16,"t":1.661,"i":0.148},{"s":16,"t":1.664,"i":0.17},{"s":16,"t":1.667,"i":0.148},{"s":16,"t":1.67,"i":0.17},{"s":16,"t":1.673,"i":0.147},{"s":16,"t":1.676,"i":0.169},{"s":16,"t":1.679,"i":0.148},{"s":16,"t":1.682,"i":0.17},{"s":16,"t":1.685,"i":0.147},{"s":16,"t":1.688,"i":0.169},{"s":16,"t":1.691,"i":0.148},{"s":16,"t":1.694,"i":0.168},{"s":16,"t":1.697,"i":0.15},{"s":16,"t":1.6995,"i":0.165},{"s":16,"t":1.7,"i":-0.218},{"s":16,"t":1.7005,"i":-0.19},{"s":16,"t":1.701,"i":-0.15},{"s":16,"t":1.7015,"i":-0.205},{"s":16,"t":1.702,"i":-0.12},{"s":16,"t":1.703,"i":-0.14},{"s":16,"t":1.704,"i":-0.095},{"s":16,"t":1.705,"i":-0.11},{"s":16,"t":1.706,"i":-0.072},{"s":16,"t":1.707,"i":-0.09},{"s":16,"t":1.708,"i":-0.055},{"s":16,"t":1.709,"i":-0.07},{"s":16,"t":1.711,"i":-0.04},{"s":16,"t":1.713,"i":-0.055},{"s":16,"t":1.715,"i":-0.028},{"s":16,"t":1.717,"i":-0.04},{"s":16,"t":1.719,"i":-0.018},{"s":16,"t":1.721,"i":-0.03},{"s":16,"t":1.723,"i":-0.01},{"s":16,"t":1.725,"i":-0.022},{"s":16,"t":1.728,"i":-0.004},{"s":16,"t":1.731,"i":-0.018},{"s":16,"t":1.734,"i":0.001},{"s":16,"t":1.737,"i":-0.015},{"s":16,"t":1.74,"i":0.003},{"s":16,"t":1.743,"i":-0.012},{"s":16,"t":1.746,"i":0.002},{"s":16,"t":1.749,"i":-0.008}
]},
"mark": {"type": "line", "color": "#ff0000", "strokeWidth": 2.5, "clip": true},
"encoding": {
  "x": {"field": "t", "type": "quantitative", "scale": {"domain": [0, 1.753], "nice": false, "zero": false}, "axis": {"title": "t [s]", "values": [0.1, 1.6], "format": ".1f"}},
  "y": {"field": "i", "type": "quantitative", "scale": {"domain": [-0.363, 0.529], "nice": false, "zero": false}, "axis": {"title": "I [nA]", "values": [-0.2, 0, 0.2, 0.4], "labelExpr": "datum.value == 0 ? '0' : (datum.value < 0 ? '-' + format(-datum.value, '.1f') : format(datum.value, '.1f'))"}},
  "detail": {"field": "s", "type": "nominal"}
}
},
{
"data": {"values": [{"label": "35 °C\u00a0 Inactivation"}]},
"mark": {"type": "text", "align": "right", "baseline": "alphabetic", "fontSize": 19, "font": "DejaVu Sans", "color": "#000000"},
"encoding": {
  "x": {"datum": 1.747, "type": "quantitative", "title": "t [s]"},
  "y": {"datum": 0.521, "type": "quantitative", "axis": {"orient": "right", "title": "BBP Channelpedia ID 29341 rep 1", "labels": false, "ticks": false, "domain": false, "grid": false, "titleAngle": 270, "titleBaseline": "top", "titlePadding": 6, "titleFontSize": 13.5, "titleColor": "#000000", "titleFont": "DejaVu Sans"}},
  "text": {"field": "label"}
}
}
],
"resolve": {"axis": {"y": "independent"}}
}
